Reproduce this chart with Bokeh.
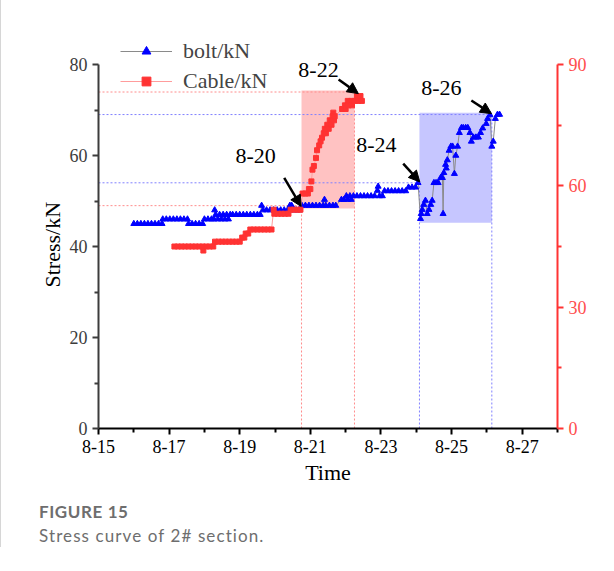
from bokeh.plotting import figure
from bokeh.models import (Range1d, LinearAxis, FixedTicker, Arrow, NormalHead,
                          Legend, LegendItem, Title, Div)
from bokeh.layouts import column
from bokeh.embed import file_html
from bokeh.resources import INLINE
from bokeh.core.properties import value

# ---------------- data ----------------
x_ticks = [15, 17, 19, 21, 23, 25, 27]
x_minor = [16, 18, 20, 22, 24, 26, 28]
x_tick_labels = ["8-15", "8-17", "8-19", "8-21", "8-23", "8-25", "8-27"]
left_ticks = [0, 20, 40, 60, 80]
left_minor = [10, 30, 50, 70]
right_ticks = [0, 30, 60, 90]
right_minor = [15, 45, 75]

# bolt stress (day of August, kN) – left axis
bolt_x = [16.00, 16.10, 16.20, 16.30, 16.40, 16.50, 16.60, 16.70, 16.80,
          16.82, 16.92, 17.02, 17.12, 17.22, 17.32, 17.42, 17.52,
          17.55, 17.65, 17.75, 17.85, 17.95,
          18.00, 18.10, 18.20, 18.27, 18.29,
          18.32, 18.38, 18.43, 18.48, 18.53, 18.58, 18.63, 18.68, 18.73,
          18.80, 18.90, 19.00, 19.10, 19.20, 19.30, 19.40, 19.50, 19.58,
          19.62, 19.66, 19.76, 19.86, 19.96, 20.06, 20.16, 20.26, 20.36,
          20.42, 20.47, 20.52, 20.60, 20.68,
          20.76, 20.86, 20.96, 21.06, 21.16, 21.26, 21.36, 21.40, 21.44,
          21.54, 21.64, 21.72,
          21.88, 21.95, 22.02, 22.06, 22.12, 22.16, 22.22, 22.32, 22.42,
          22.52, 22.62, 22.72, 22.82, 22.90, 22.92, 22.96, 23.04,
          23.10, 23.20, 23.30, 23.40, 23.50, 23.60, 23.70,
          23.78, 23.88, 23.98, 24.05,
          24.12, 24.14, 24.17, 24.21, 24.26, 24.31, 24.36, 24.41, 24.45,
          24.50, 24.56, 24.62, 24.69, 24.74, 24.76, 24.78, 24.83, 24.85,
          24.88, 24.93, 24.98, 25.03, 25.08, 25.12, 25.17, 25.22, 25.28,
          25.33, 25.40, 25.46, 25.52, 25.56, 25.62, 25.69, 25.76, 25.82,
          25.88, 25.98, 26.02, 26.09, 26.14, 26.18, 26.24, 26.30, 26.36]
bolt_y = [45, 45, 45, 45, 45, 45, 45, 45, 45,
          46, 46, 46, 46, 46, 46, 46, 46,
          45, 45, 45, 45, 45,
          46, 46, 46, 46, 48,
          47, 46, 47, 46, 47, 46, 47, 46, 47,
          47, 47, 47, 47, 47, 47, 47, 47, 47,
          49, 48, 48, 48, 48, 48, 48, 48, 48,
          49, 49, 48, 48, 48,
          49, 49, 49, 49, 49, 49, 49, 50.3, 49,
          49, 49, 49,
          50.3, 50.3, 51.1, 50.3, 51.1, 50.3, 51.1, 51.1, 51.1,
          51.1, 51.1, 51.1, 51.1, 52.3, 53.2, 51.1, 51.1,
          52.2, 52.2, 52.2, 52.2, 52.2, 52.2, 52.2,
          53.0, 53.0, 53.0, 54.0,
          46.1, 47.2, 48.1, 49.2, 50.1, 47.2, 48.1, 49.2, 50.1,
          54.0, 54.0, 54.0, 55.1, 55.1, 47.2, 56.2, 58.0, 57.2,
          59.0, 61.1, 62.0, 62.0, 56.0, 60.0, 62.0, 65.0, 66.1,
          66.1, 66.1, 66.1, 65.0, 63.1, 64.0, 64.0, 64.0, 65.0,
          66.0, 67.0, 68.1, 68.9, 62.0, 63.1, 68.1, 69.0, 69.0]

# cable stress (day of August, kN) – right axis
cable_x = [17.15, 17.25, 17.35, 17.45, 17.55, 17.65, 17.75, 17.85, 17.95,
           17.97, 18.05, 18.15, 18.25,
           18.30, 18.40, 18.50, 18.60, 18.70, 18.80, 18.90, 19.00,
           19.07, 19.13, 19.17, 19.24,
           19.30, 19.40, 19.50, 19.60, 19.70, 19.80, 19.90,
           19.96, 19.98, 20.08, 20.18, 20.28, 20.38,
           20.44, 20.54, 20.64, 20.72,
           20.78, 20.86, 20.93, 20.96, 21.00, 21.03, 21.06, 21.10, 21.16,
           21.19, 21.25, 21.29, 21.33, 21.38, 21.41, 21.44, 21.48, 21.52,
           21.55, 21.60, 21.63, 21.65, 21.67, 21.69,
           21.90, 21.98, 22.00, 22.06, 22.08, 22.16, 22.18, 22.26, 22.32,
           22.36, 22.42, 22.46]
cable_y = [45.0, 45.0, 45.0, 45.0, 45.0, 45.0, 45.0, 45.0, 45.0,
           44.0, 45.0, 45.0, 45.0,
           46.2, 46.2, 46.2, 46.2, 46.2, 46.2, 46.2, 46.2,
           47.2, 47.2, 48.2, 48.2,
           49.2, 49.2, 49.2, 49.2, 49.2, 49.2, 49.2,
           54.1, 53.1, 53.1, 53.1, 53.1, 53.1,
           54.1, 54.1, 54.1, 54.1,
           58.1, 58.1, 58.1, 59.2, 59.2, 61.1, 64.0, 64.9, 66.9,
           68.8, 70.0, 71.0, 71.9, 73.0, 74.1, 73.0, 75.1, 74.1,
           76.2, 75.1, 77.2, 78.1, 76.2, 77.2,
           79.0, 79.9, 79.0, 81.0, 79.9, 81.0, 79.9, 81.0, 82.2,
           81.0, 82.2, 81.0]

# annotation labels and arrows (start -> end), left-axis units
note_text = ["8-20", "8-22", "8-24", "8-26"]
note_x = [19.45, 21.23, 22.87, 24.71]
note_y = [59.8, 78.7, 62.2, 74.9]
arrow_x0 = [20.26, 21.80, 23.63, 25.56]
arrow_y0 = [55.1, 76.7, 58.2, 72.1]
arrow_x1 = [20.74, 22.36, 24.10, 26.13]
arrow_y1 = [48.8, 73.6, 54.2, 69.2]

# highlighted windows
cable_win = dict(left=20.75, right=22.25, bottom=54.4, top=83.6)   # right axis units
bolt_win = dict(left=24.09, right=26.14, bottom=45.2, top=69.4)    # left axis units
cable_ref_hi, cable_ref_lo = 83.2, 55.1   # right axis
bolt_ref_hi, bolt_ref_lo = 69.0, 54.0     # left axis

SERIF = "Liberation Serif"
RED = "#ff3333"
BLUE = "#0000ff"

# ---------------- figure ----------------
PXU = (428 - 64) / 80.0
FRAME_TOP, FRAME_BOTTOM = 30, 428
frame_h = FRAME_BOTTOM - FRAME_TOP
p = figure(width=606, height=498,
           x_range=Range1d(15, 28), y_range=Range1d(0, frame_h / PXU),
           output_backend="svg", toolbar_location=None,
           min_border_left=97, min_border_right=50,
           min_border_top=FRAME_TOP, min_border_bottom=498 - FRAME_BOTTOM)
p.extra_y_ranges = {"r": Range1d(0, frame_h / PXU * 90 / 80)}
p.outline_line_color = None
p.xgrid.visible = False
p.ygrid.visible = False
p.background_fill_color = "white"
p.border_fill_color = "white"

# shaded windows
p.quad(y_range_name="r", fill_color="#ff7777", fill_alpha=0.45, line_color=None,
       **{k: [v] for k, v in cable_win.items()})
p.quad(fill_color="#7777ff", fill_alpha=0.42, line_color=None,
       **{k: [v] for k, v in bolt_win.items()})

# reference dashed lines
dash = "2 2"
p.segment(x0=[15, 15], y0=[cable_ref_hi, cable_ref_lo], x1=[22.3, 20.75],
          y1=[cable_ref_hi, cable_ref_lo], y_range_name="r",
          line_color="#ff8c8c", line_dash=dash, line_width=1)
p.segment(x0=[cable_win["left"], cable_win["right"]], y0=[0, 0],
          x1=[cable_win["left"], cable_win["right"]], y1=[cable_ref_lo, cable_ref_hi],
          y_range_name="r", line_color="#ff8c8c", line_dash=dash, line_width=1)
p.segment(x0=[15, 15], y0=[bolt_ref_hi, bolt_ref_lo], x1=[26.14, 24.09],
          y1=[bolt_ref_hi, bolt_ref_lo],
          line_color="#8080ff", line_dash=dash, line_width=1)
p.segment(x0=[bolt_win["left"], bolt_win["right"]], y0=[0, 0],
          x1=[bolt_win["left"], bolt_win["right"]], y1=[bolt_ref_lo, bolt_ref_hi],
          line_color="#8080ff", line_dash=dash, line_width=1)

# series
bolt_line = p.line(bolt_x, bolt_y, line_color="#8a8a8a", line_width=1)
bolt_pts = p.scatter(bolt_x, bolt_y, marker="triangle", size=6,
                     fill_color=BLUE, line_color=BLUE)
cable_line = p.line(cable_x, cable_y, y_range_name="r", line_color="#ff9c9c", line_width=1)
cable_pts = p.scatter(cable_x, cable_y, y_range_name="r", marker="square", size=5,
                      fill_color=RED, line_color=RED)

# annotations
p.text(x=note_x, y=note_y, text=note_text, text_font=value(SERIF),
       text_font_size="22px", text_align="center", text_baseline="middle",
       text_color="black")
for x0, y0, x1, y1 in zip(arrow_x0, arrow_y0, arrow_x1, arrow_y1):
    p.add_layout(Arrow(end=NormalHead(size=11, fill_color="black", line_color="black"),
                       x_start=x0, y_start=y0, x_end=x1, y_end=y1,
                       line_width=2.5, line_color="black"))

# legend (location = bottom-left corner, screen px from frame bottom-left)
legend = Legend(items=[LegendItem(label="bolt/kN", renderers=[bolt_line, bolt_pts]),
                       LegendItem(label="Cable/kN", renderers=[cable_line, cable_pts])],
                location=(22, 334), orientation="vertical")
legend.label_text_font = SERIF
legend.label_text_font_size = "22px"
legend.glyph_width = 52
legend.glyph_height = 22
legend.label_standoff = 11
legend.spacing = 4
legend.padding = 0
legend.margin = 0
legend.border_line_color = None
legend.background_fill_alpha = 0
p.add_layout(legend)

# axes
xa = p.xaxis[0]
xa.ticker = FixedTicker(ticks=x_ticks, minor_ticks=x_minor)
xa.major_label_overrides = {t: l for t, l in zip(x_ticks, x_tick_labels)}
xa.axis_label = "Time"
ya = p.yaxis[0]
ya.ticker = FixedTicker(ticks=left_ticks, minor_ticks=left_minor)
ya.bounds = (0, 80)
ra = LinearAxis(y_range_name="r", ticker=FixedTicker(ticks=right_ticks, minor_ticks=right_minor),
                bounds=(0, 90))
p.add_layout(ra, "right")

for ax, col, lcol in [(xa, "black", "black"), (ya, "#3c3c3c", "#3c3c3c"), (ra, RED, "#ff4d4d")]:
    ax.axis_line_color = col
    ax.axis_line_width = 2
    ax.major_tick_line_color = col
    ax.minor_tick_line_color = col
    ax.major_tick_line_width = 2
    ax.minor_tick_line_width = 2
    ax.major_tick_in = 0
    ax.major_tick_out = 6
    ax.minor_tick_in = 0
    ax.minor_tick_out = 4
    ax.major_label_text_font = SERIF
    ax.major_label_text_font_size = "18px"
    ax.major_label_text_color = lcol
    ax.major_label_standoff = 5
    ax.axis_label_text_font = SERIF
    ax.axis_label_text_font_size = "22px"
    ax.axis_label_text_font_style = "normal"
    ax.axis_label_text_color = "black"
    ax.axis_label_standoff = 4

# y-axis title, placed so that it is centred on the 0-80 part of the axis
ytitle = Title(text="Stress/kN", align="left", offset=141,
               text_font=SERIF, text_font_size="22px", text_font_style="normal",
               text_color="black", standoff=4)
p.add_layout(ytitle, "left")

cap = Div(text=('<div style="font-family:Lato,sans-serif;color:#6e6e6e;">'
                '<div style="font-weight:bold;font-size:17px;line-height:21px;letter-spacing:0.6px;">FIGURE 15</div>'
                '<div style="font-size:17px;line-height:21px;margin-top:3px;letter-spacing:1.1px;">Stress curve of 2# section.</div>'
                '</div>'),
          width=560, margin=(3, 0, 0, 38))

layout = column(p, cap, styles={"border-left": "1px solid #d6d6d6"})

open("out.html", "w").write(file_html(layout, INLINE))
